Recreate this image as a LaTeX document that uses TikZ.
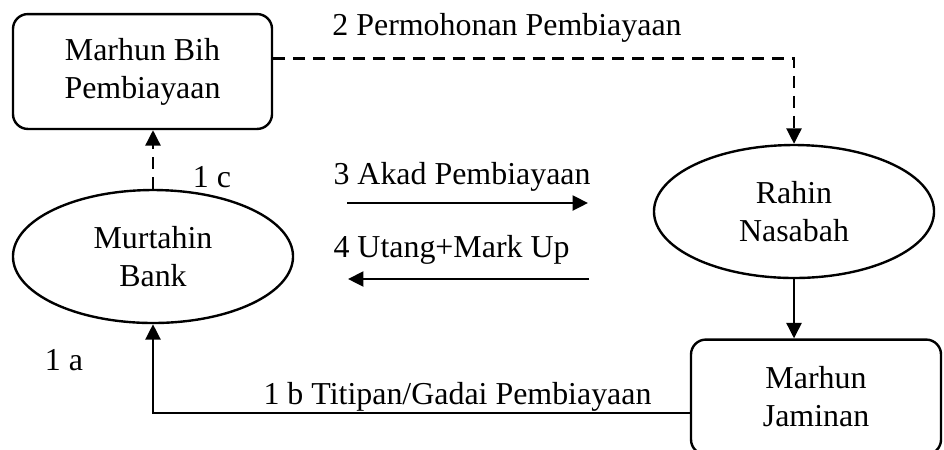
\documentclass[tikz,border=0pt]{standalone}
\usepackage{fontspec}
\setmainfont{Liberation Serif}
\usepackage{tikz}
\usetikzlibrary{arrows.meta,positioning,shapes.geometric}
\tikzset{
  >={Triangle[length=5.8pt,width=5.6pt]},
  every picture/.style={line join=miter},
  lbl/.style={font=\fontsize{12}{14.3}\selectfont, inner sep=0pt},
  entity/.style={lbl, draw, line width=0.9pt, rounded corners=5.6pt, align=center,
    minimum height=43.2pt},
  party/.style={lbl, draw, ellipse, line width=0.9pt, align=center,
    minimum width=105.3pt, minimum height=50pt},
  flow/.style={line width=1pt, ->},
  flowdash/.style={flow, dash pattern=on 4.5pt off 3pt},
}

\begin{document}
\begin{tikzpicture}[x=0.376pt, y=-0.376pt]
\useasboundingbox (0,0) rectangle (944,449);
% the parties
\node[entity, minimum width=97.4pt] (bih) at (142.5,71.5) {Marhun Bih\\Pembiayaan};
\node[party] (murtahin) at (153,256.5) {Murtahin\\Bank};
\node[party] (rahin) at (794,211.5) {Rahin\\Nasabah};
\node[entity, minimum width=94pt] (jaminan) at (816,397) {Marhun\\Jaminan};
% the flows between them
\draw[flowdash] (murtahin.north) -- (murtahin.north |- bih.south);
\draw[flowdash] ([yshift=5pt]bih.east) -| (rahin.north);
\draw[flow] (rahin.south) -- (rahin.south |- jaminan.north);
\draw[flow] ([yshift=-6pt]jaminan.west) -| (murtahin.south);
\coordinate (akadA) at (347,203);
\coordinate (akadB) at (588,203);
\coordinate (utangA) at (589,279);
\coordinate (utangB) at (348,279);
\draw[flow] (akadA) -- (akadB);
\draw[flow] (utangA) -- (utangB);
% the labels
\node[lbl] (permohonan) at (507,28) {2 Permohonan Pembiayaan};
\node[lbl] (labc) at (212,177) {1 c};
\node[lbl, anchor=west] (akad) at (333,177) {3 Akad Pembiayaan};
\node[lbl, anchor=west] (utang) at (333,250) {4 Utang+Mark Up};
\node[lbl] (laba) at (64,360) {1 a};
\node[lbl, anchor=west] (titipan) at (263,397) {1 b Titipan/Gadai Pembiayaan};
\end{tikzpicture}
\end{document}
